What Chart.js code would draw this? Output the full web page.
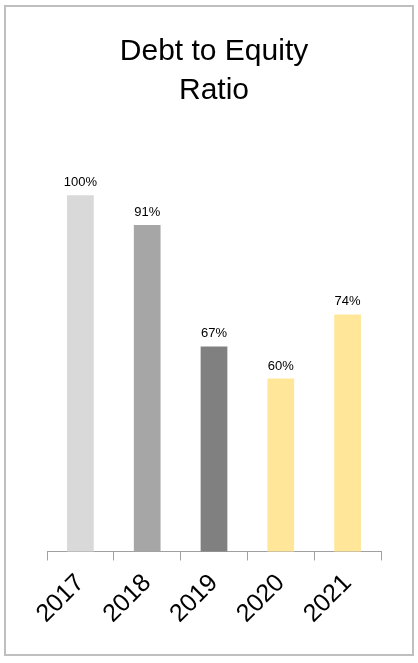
<!DOCTYPE html>
<html>
<head>
<meta charset="utf-8">
<script src="https://cdn.jsdelivr.net/npm/chart.js@4"></script>
<style>
  html, body { margin: 0; padding: 0; background: #fff; }
  .frame {
    position: absolute; left: 4px; top: 5px; width: 406px; height: 647px;
    border: 2px solid #bfbfbf;
  }
  .wrap { position: absolute; left: 0; top: 0; width: 418px; height: 663px; }
</style>
</head>
<body>
<div class="frame"></div>
<div class="wrap"><canvas id="chart"></canvas></div>
<script>
// years on the x axis
const years = ['2017', '2018', '2019', '2020', '2021'];
// bar heights (percent)
const ratios = [100, 93.5, 67, 60, 74];
// printed value labels above the bars
const valueLabels = ['100%', '91%', '67%', '60%', '74%'];
const barColors = ['#d9d9d9', '#a6a6a6', '#808080', '#ffe699', '#ffe699'];

const FONT = '"Liberation Sans", Arial, sans-serif';

// draws the value text above each bar
const barValueLabels = {
  id: 'barValueLabels',
  afterDatasetsDraw(chart) {
    const ctx = chart.ctx;
    const meta = chart.getDatasetMeta(0);
    ctx.save();
    ctx.font = '13px ' + FONT;
    ctx.fillStyle = '#000';
    ctx.textAlign = 'center';
    ctx.textBaseline = 'alphabetic';
    meta.data.forEach((bar, i) => {
      ctx.fillText(valueLabels[i], bar.x, bar.y - 9);
    });
    ctx.restore();
  }
};

new Chart(document.getElementById('chart'), {
  type: 'bar',
  data: {
    labels: years,
    datasets: [{
      data: ratios,
      backgroundColor: barColors,
      borderWidth: 0,
      categoryPercentage: 1,
      barPercentage: 0.4
    }]
  },
  options: {
    responsive: true,
    maintainAspectRatio: false,
    animation: false,
    layout: { padding: { left: 47, right: 37, top: 0, bottom: 26 } },
    plugins: {
      legend: { display: false },
      tooltip: { enabled: false },
      title: {
        display: true,
        text: ['Debt to Equity', 'Ratio'],
        color: '#000',
        font: { family: FONT, size: 30, weight: 'normal', lineHeight: 1.3 },
        padding: { top: 32, bottom: 48 }
      }
    },
    scales: {
      x: {
        border: { display: true, color: '#a0a0a0', width: 1 },
        grid: {
          display: true,
          drawOnChartArea: false,
          drawTicks: true,
          tickLength: 9,
          color: '#a0a0a0',
          offset: true
        },
        ticks: {
          color: '#000',
          font: { family: FONT, size: 25 },
          minRotation: 45,
          maxRotation: 45,
          padding: 8
        }
      },
      y: {
        display: false,
        min: 22.3,
        max: 108.1
      }
    }
  },
  plugins: [barValueLabels]
});
</script>
</body>
</html>
